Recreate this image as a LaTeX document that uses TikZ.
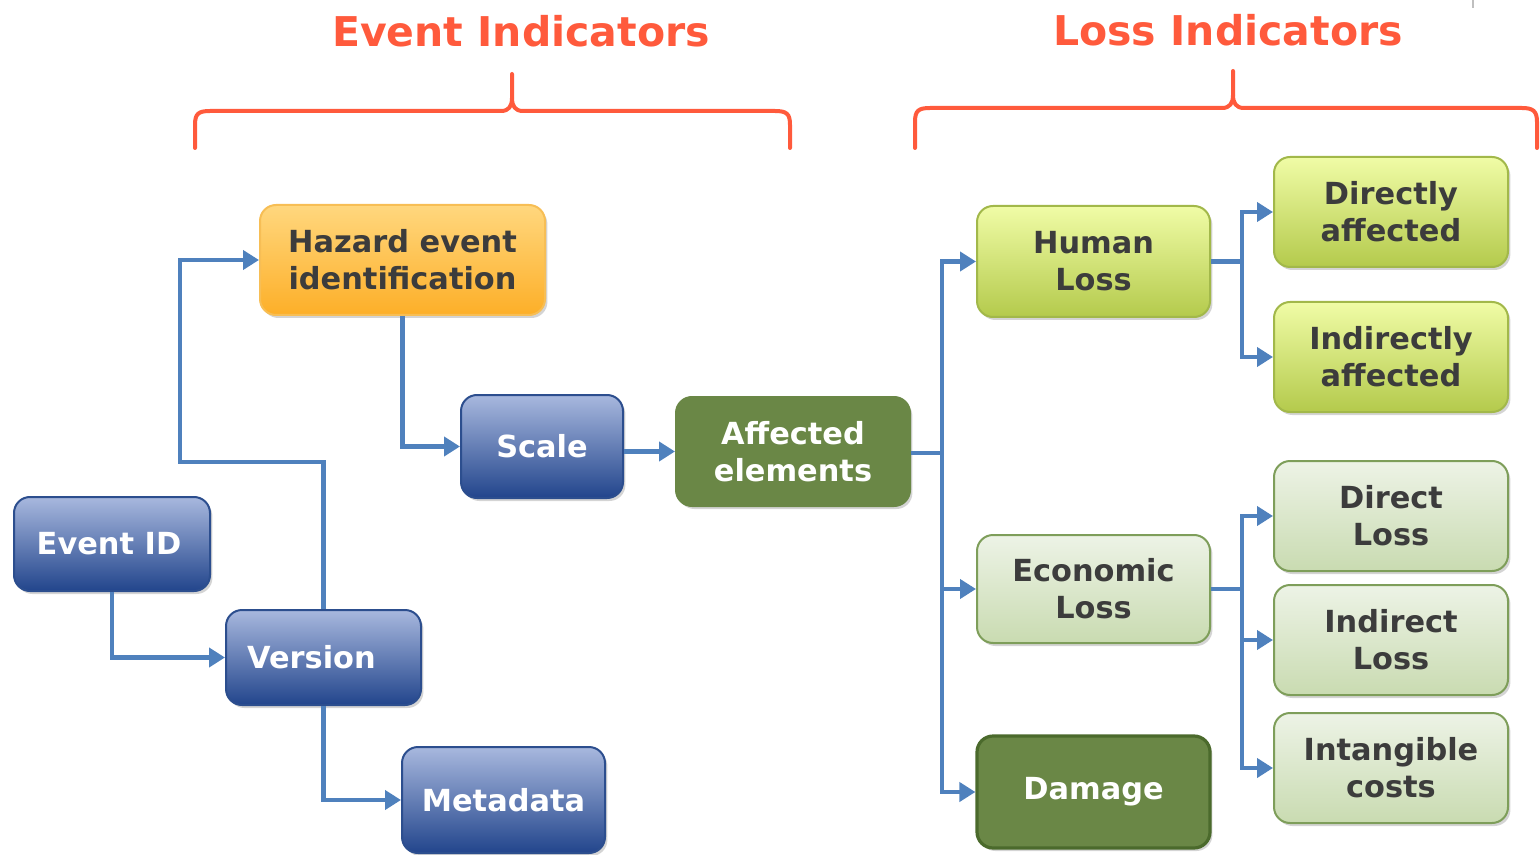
\documentclass[tikz,border=0pt]{standalone}
\usepackage{fontspec}
\setmainfont{DejaVu Sans}
\usetikzlibrary{arrows.meta,shadows}
\definecolor{conncol}{HTML}{4F81BD}
\definecolor{titlecol}{HTML}{FF5A3C}
\definecolor{txtdark}{HTML}{3C3C3C}
\definecolor{bluetop}{HTML}{A8B8DE}
\definecolor{bluebot}{HTML}{22458C}
\definecolor{blueline}{HTML}{2C4E8E}
\definecolor{orgtop}{HTML}{FFD77E}
\definecolor{orgbot}{HTML}{FDAF28}
\definecolor{orgline}{HTML}{F7BE55}
\definecolor{limetop}{HTML}{F0FCA6}
\definecolor{limebot}{HTML}{B4CA4C}
\definecolor{limeline}{HTML}{A2B84A}
\definecolor{paletop}{HTML}{EDF3E6}
\definecolor{palebot}{HTML}{C9DBB1}
\definecolor{paleline}{HTML}{7E9E5A}
\definecolor{olive}{HTML}{6A8746}
\definecolor{oliveline}{HTML}{4B6A2C}
\begin{document}
\begin{tikzpicture}[x=0.5pt,y=-0.5pt,
  base/.style={rounded corners=8pt, inner sep=0pt, line width=1pt,
    font=\fontsize{15.2}{18.5}\selectfont\bfseries,
    drop shadow={shadow xshift=1.2pt, shadow yshift=-1.5pt, opacity=0.28, fill=black!60}},
  box/.style={base, align=center},
  sz/.style 2 args={minimum width=#1*0.5pt, minimum height=#2*0.5pt},
  bluebox/.style={draw=blueline, top color=bluetop, bottom color=bluebot, text=white},
  orgbox/.style={draw=orgline, top color=orgtop, bottom color=orgbot, text=txtdark},
  limebox/.style={draw=limeline, top color=limetop, bottom color=limebot, text=txtdark},
  palebox/.style={draw=paleline, top color=paletop, bottom color=palebot, text=txtdark},
  olivebox/.style={draw=olive, fill=olive, text=white},
  conn/.style={draw=conncol, line width=2.4pt, line join=miter,
    -{Triangle[length=8pt,width=9.5pt]}},
  plain/.style={draw=conncol, line width=2.4pt, line join=miter},
  brace/.style={draw=titlecol, line width=2pt, line cap=round, line join=round},
  title/.style={text=titlecol, font=\fontsize{20.5}{24}\selectfont\bfseries, inner sep=0pt}
]
\useasboundingbox (0,0) rectangle (1540,855);

% titles
\node[title] (t1) at (521,31) {Event Indicators};
\node[title] (t2) at (1228,30) {Loss Indicators};

% braces
\draw[brace] (195,148) -- (195,125) .. controls (195,114) and (198,111) .. (210,111)
  -- (501,111) .. controls (509,111) and (512,106) .. (512,98) -- (512,74);
\draw[brace] (512,98) .. controls (512,106) and (515,111) .. (523,111)
  -- (775,111) .. controls (787,111) and (790,114) .. (790,125) -- (790,148);
\draw[brace] (915,148) -- (915,122) .. controls (915,111) and (918,108) .. (930,108)
  -- (1222,108) .. controls (1230,108) and (1233,103) .. (1233,95) -- (1233,71);
\draw[brace] (1233,95) .. controls (1233,103) and (1236,108) .. (1244,108)
  -- (1522,108) .. controls (1533,108) and (1537,111) .. (1537,122) -- (1537,148);
\draw[gray!50, line width=0.6pt] (1473,0) -- (1473,8);

% event side nodes
\node[box, orgbox, sz={285}{110}] (haz) at (402.5,260) {Hazard event\\identification};
\node[box, bluebox, sz={162}{103}] (scale) at (542,446.5) {Scale};
\node[box, olivebox, sz={234}{109}] (aff) at (793,451.5) {Affected\\elements};
\node[box, bluebox, sz={196}{94}] (eid) at (112,544) {\kern-3pt Event ID};
\node[base, bluebox, sz={195}{95}] (ver) at (323.5,657.5) {Version\kern12pt};
\node[box, bluebox, sz={203}{106}] (meta) at (503.5,800) {Metadata};

% loss side nodes
\node[box, limebox, sz={233}{111}] (hum) at (1093.5,261.5) {Human\\Loss};
\node[box, limebox, sz={234}{110}] (dir) at (1391,212) {Directly\\affected};
\node[box, limebox, sz={234}{110}] (ind) at (1391,357) {Indirectly\\affected};
\node[box, palebox, sz={233}{108}] (eco) at (1093.5,589) {Economic\\Loss};
\node[box, olivebox, draw=oliveline, line width=1.6pt, sz={233}{112}] (dam) at (1093.5,792) {Damage};
\node[box, palebox, sz={234}{110}] (dl) at (1391,516) {Direct\\Loss};
\node[box, palebox, sz={234}{110}] (il) at (1391,640) {Indirect\\Loss};
\node[box, palebox, sz={234}{110}] (ic) at (1391,768) {Intangible\\costs};

% junction points
\coordinate (vbend) at (180,462);
\coordinate (trunk) at (942,453);
\coordinate (hb) at (1242,261.5);
\coordinate (eb) at (1242,589);

% connectors
\draw[conn] (haz.south) |- (scale.west);
\draw[conn] (ver.north) |- (vbend) |- (haz.west);
\draw[conn] (eid.south) |- (ver.west);
\draw[conn] (ver.south) |- (meta.west);
\draw[conn] (aff.west -| scale.east) -- (aff.west);

\draw[plain] (aff.east |- trunk) -- (trunk);
\draw[conn] (trunk) |- (hum.west);
\draw[conn] (trunk) |- (eco.west);
\draw[conn] (trunk) |- (dam.west);

\draw[plain] (hum.east) -- (hb);
\draw[conn] (hb) |- (dir.west);
\draw[conn] (hb) |- (ind.west);

\draw[plain] (eco.east) -- (eb);
\draw[conn] (eb) |- (dl.west);
\draw[conn] (eb) |- (il.west);
\draw[conn] (eb) |- (ic.west);
\end{tikzpicture}
\end{document}
